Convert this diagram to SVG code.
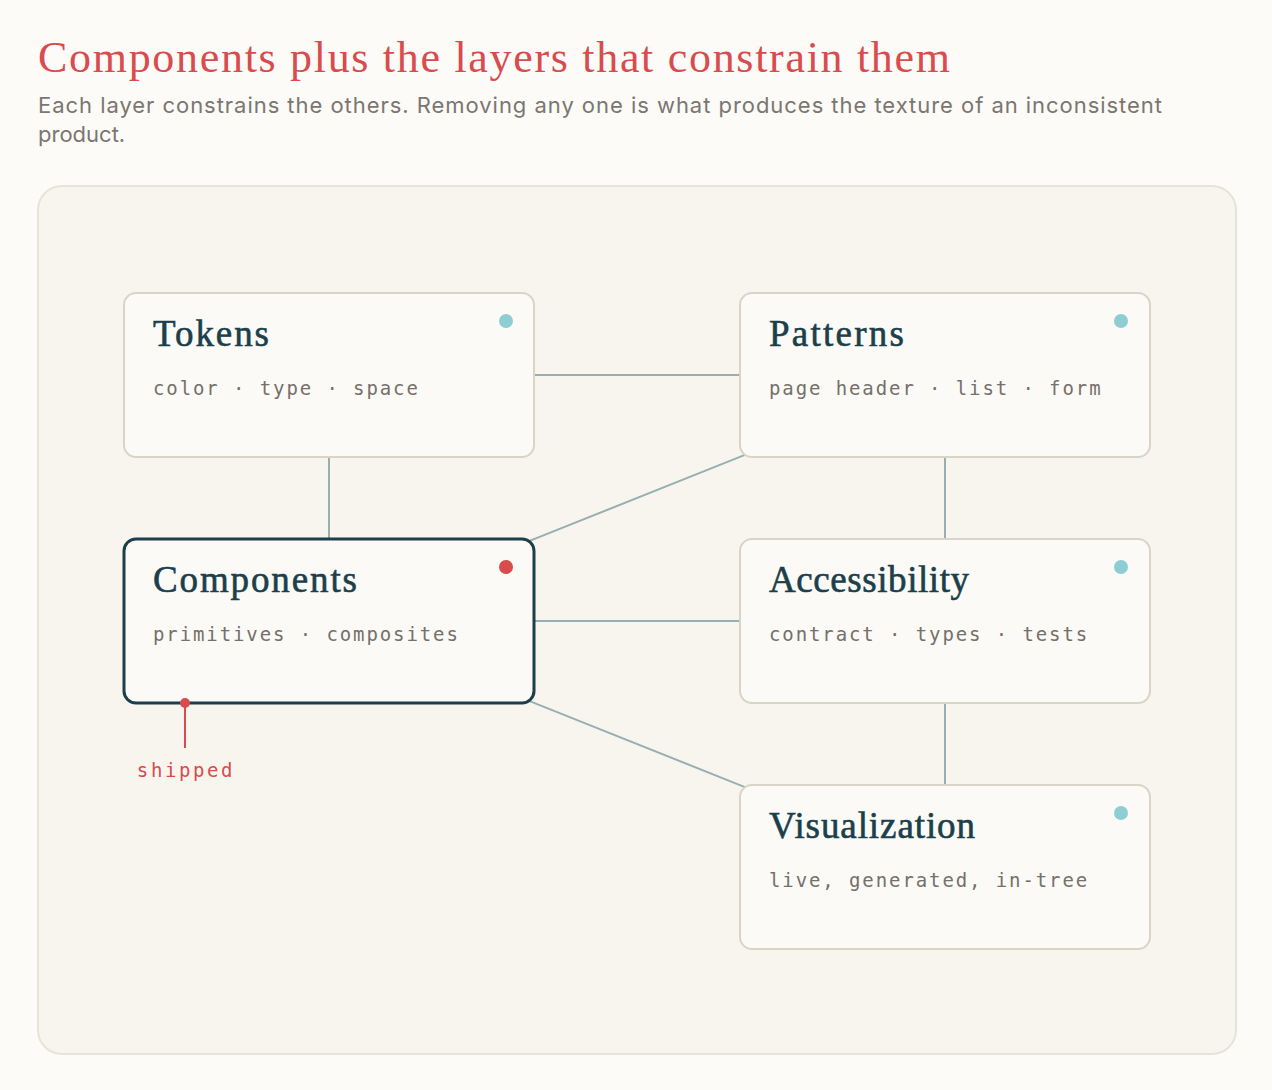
<svg xmlns="http://www.w3.org/2000/svg" width="1272" height="1090" viewBox="0 0 1272 1090">
<style>
.title{font-family:"Liberation Serif","DejaVu Serif",serif;font-size:44px;fill:#d94b4d}
.sub{font-family:Inter,"Liberation Sans",sans-serif;font-size:22px;fill:#7b7670}
.node{fill:#fcfaf6;stroke:#d9d5c6;stroke-width:2}
.node.active{stroke:#1d3f4b;stroke-width:3}
.ntitle{font-family:"Liberation Serif","DejaVu Serif",serif;font-size:37px;fill:#1b3f4b;stroke:#1b3f4b;stroke-width:0.6px}
.nsub{font-family:"DejaVu Sans Mono","Liberation Mono",monospace;font-size:19px;fill:#75706a;letter-spacing:1.9px}
.dot{fill:#8fcdd5}
.dot.red{fill:#d94b4d}
.conn line{stroke:#97afb0;stroke-width:2}
.ship{font-family:"DejaVu Sans Mono","Liberation Mono",monospace;font-size:19px;fill:#d94b4d;letter-spacing:2.6px}
</style>
<rect width="1272" height="1090" fill="#fcfbf8"/>
<text class="title" x="38" y="72" textLength="912">Components plus the layers that constrain them</text>
<text class="sub" x="38" y="113" textLength="1124">Each layer constrains the others. Removing any one is what produces the texture of an inconsistent</text>
<text class="sub" x="38" y="142">product.</text>
<rect x="38" y="186" width="1198" height="868" rx="24" fill="#f8f5ef" stroke="#e6e3d7" stroke-width="2"/>
<g id="connectors" class="conn">
<line x1="534" y1="375" x2="740" y2="375"/>
<line x1="329" y1="457" x2="329" y2="539"/>
<line x1="945" y1="457" x2="945" y2="539"/>
<line x1="534" y1="621" x2="740" y2="621"/>
<line x1="945" y1="703" x2="945" y2="785"/>
<line x1="329" y1="621" x2="945" y2="375"/>
<line x1="329" y1="621" x2="945" y2="867"/>
</g>
<g id="tokens">
<rect class="node" x="124" y="293" width="410" height="164" rx="12"/>
<text class="ntitle" x="153" y="346" textLength="116">Tokens</text>
<text class="nsub" x="153" y="395">color · type · space</text>
<circle class="dot" cx="506" cy="321" r="7"/>
</g>
<g id="patterns">
<rect class="node" x="740" y="293" width="410" height="164" rx="12"/>
<text class="ntitle" x="769" y="346" textLength="135">Patterns</text>
<text class="nsub" x="769" y="395">page header · list · form</text>
<circle class="dot" cx="1121" cy="321" r="7"/>
</g>
<g id="components">
<rect class="node active" x="124" y="539" width="410" height="164" rx="12"/>
<text class="ntitle" x="153" y="592" textLength="204">Components</text>
<text class="nsub" x="153" y="641">primitives · composites</text>
<circle class="dot red" cx="506" cy="567" r="7"/>
</g>
<g id="accessibility">
<rect class="node" x="740" y="539" width="410" height="164" rx="12"/>
<text class="ntitle" x="769" y="592" textLength="200">Accessibility</text>
<text class="nsub" x="769" y="641">contract · types · tests</text>
<circle class="dot" cx="1121" cy="567" r="7"/>
</g>
<g id="visualization">
<rect class="node" x="740" y="785" width="410" height="164" rx="12"/>
<text class="ntitle" x="769" y="838" textLength="206">Visualization</text>
<text class="nsub" x="769" y="887">live, generated, in-tree</text>
<circle class="dot" cx="1121" cy="813" r="7"/>
</g>
<g id="shipped">
<line x1="185" y1="703" x2="185" y2="748" stroke="#d94b4d" stroke-width="2"/>
<circle cx="185" cy="703" r="5" fill="#d94b4d"/>
<text class="ship" x="186" y="777" text-anchor="middle">shipped</text>
</g>
</svg>
